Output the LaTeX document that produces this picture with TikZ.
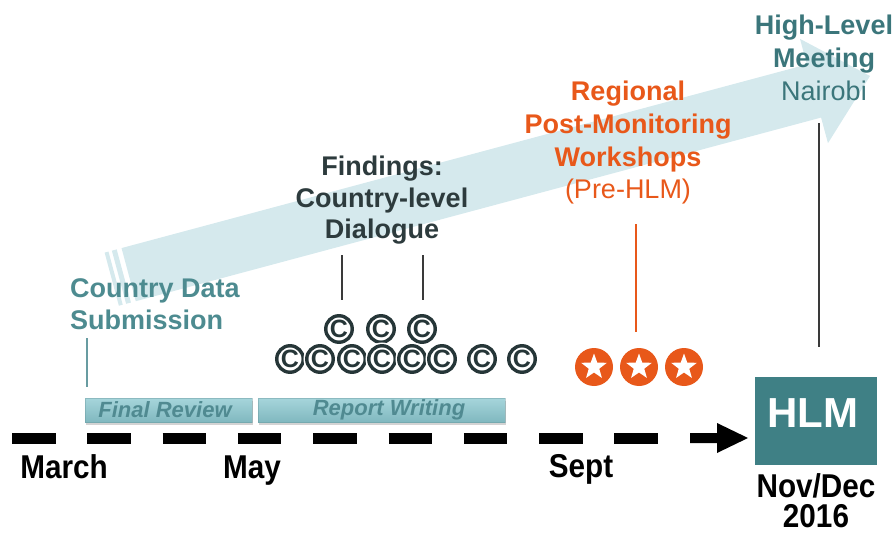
\documentclass[tikz,border=0pt]{standalone}
\usepackage{fontspec}
\setmainfont{Liberation Sans}
\newfontfamily\tlfont[FakeStretch=0.9]{Liberation Sans}
\usetikzlibrary{shapes.geometric,shadows}
\definecolor{arrowblue}{HTML}{D5E9ED}
\definecolor{hlteal}{HTML}{3B767B}
\definecolor{cdteal}{HTML}{4D8B90}
\definecolor{finddark}{HTML}{2D3B3D}
\definecolor{orng}{HTML}{E8581A}
\definecolor{boxteal}{HTML}{3F8085}
\definecolor{bartop}{HTML}{A6D5DB}
\definecolor{barbot}{HTML}{80B8BF}
\definecolor{bartext}{HTML}{508A91}
\definecolor{cdark}{HTML}{263638}
\definecolor{linegray}{HTML}{3A3A3A}
\begin{document}
\begin{tikzpicture}[x=1pt,y=-1pt,
  lbl/.style={font=\bfseries\fontsize{27}{32}\selectfont, anchor=base, inner sep=0pt},
  lblreg/.style={font=\fontsize{27}{32}\selectfont, anchor=base, inner sep=0pt},
  tl/.style={font=\tlfont\bfseries\fontsize{33}{38}\selectfont, anchor=base, inner sep=0pt, text=black},
  barbox/.style={rectangle, minimum height=24pt, inner sep=0pt, top color=bartop, bottom color=barbot,
    draw=barbot!80!black, draw opacity=0.4, line width=0.6pt,
    drop shadow={shadow xshift=1pt, shadow yshift=-2.5pt, opacity=0.35}},
  bartxt/.style={inner sep=0pt, font=\bfseries\itshape\fontsize{22}{22}\selectfont, text=bartext},
  copy/.style={circle, minimum size=26.5pt, inner sep=0pt, draw=cdark, line width=3.4pt,
    preaction={draw=white, line width=6.5pt}, text=cdark,
    font=\bfseries\fontsize{25}{25}\selectfont},
  starcirc/.style={circle, minimum size=38pt, inner sep=0pt, fill=orng},
  starw/.style={star, star points=5, star point ratio=2.45, minimum size=27pt, inner sep=0pt, fill=white},
  vline/.style={draw=linegray, line width=1.3pt}
]
\useasboundingbox (0,0) rectangle (895,535);

% big background arrow
\begin{scope}[shift={(870,76)}, rotate=15]
  \fill[arrowblue] (0,0) -- (-58,-54) -- (-58,-27.5) -- (-767.5,-27.5) -- (-767.5,27.5) -- (-58,27.5) -- (-58,54) -- cycle;
  \fill[arrowblue] (-785,-27.5) rectangle (-781,27.5);
  \fill[arrowblue] (-777.5,-27.5) rectangle (-772.5,27.5);
\end{scope}

% top labels
\node[lbl, text=hlteal] (hl1) at (824,35) {High-Level};
\node[lbl, text=hlteal] (hl2) at (824,67) {Meeting};
\node[lblreg, text=hlteal] (hl3) at (824,100) {Nairobi};

\node[lbl, text=orng] (rg1) at (628,100) {Regional};
\node[lbl, text=orng] (rg2) at (628,133) {Post-Monitoring};
\node[lbl, text=orng] (rg3) at (628,166) {Workshops};
\node[lblreg, text=orng] (rg4) at (628,198) {(Pre-HLM)};

\node[lbl, text=finddark] (fd1) at (382,175) {Findings:};
\node[lbl, text=finddark] (fd2) at (382,207) {Country-level};
\node[lbl, text=finddark] (fd3) at (382,238) {Dialogue};

\node[lbl, text=cdteal, anchor=base west] (cd1) at (70,297) {Country Data};
\node[lbl, text=cdteal, anchor=base west] (cd2) at (70,329) {Submission};

% vertical lines
\coordinate (hlA) at (819,123); \coordinate (hlB) at (819,347);
\draw[vline] (hlA) -- (hlB);
\coordinate (rgA) at (636,224); \coordinate (rgB) at (636,332);
\draw[draw=orng, line width=1.3pt] (rgA) -- (rgB);
\coordinate (fdA) at (342,255); \coordinate (fdB) at (342,300);
\coordinate (fdC) at (423,255); \coordinate (fdD) at (423,300);
\draw[vline] (fdA) -- (fdB);
\draw[vline] (fdC) -- (fdD);
\coordinate (cdA) at (87,338); \coordinate (cdB) at (87,387);
\draw[draw=cdteal!85!white, line width=1.3pt] (cdA) -- (cdB);

% copyright symbols
\node[copy] (c1) at (339,329) {C};
\node[copy] (c2) at (381,329) {C};
\node[copy] (c3) at (422,329) {C};
\node[copy] (c4) at (290,359) {C};
\node[copy] (c5) at (320,359) {C};
\node[copy] (c6) at (352,359) {C};
\node[copy] (c7) at (382,359) {C};
\node[copy] (c8) at (412,359) {C};
\node[copy] (c9) at (442,359) {C};
\node[copy] (c10) at (482,359) {C};
\node[copy] (c11) at (522,359) {C};

% stars
\node[starcirc] (s1) at (594,367) {};
\node[starcirc] (s2) at (639,367) {};
\node[starcirc] (s3) at (684,367) {};
\node[starw] (w1) at (s1.center) {};
\node[starw] (w2) at (s2.center) {};
\node[starw] (w3) at (s3.center) {};

% bars
\node[barbox, minimum width=167pt] (fr) at (168.5,410) {};
\node[barbox, minimum width=247pt] (rw) at (381.5,410) {};
\node[bartxt] (frt) at (165,410) {Final Review};
\node[bartxt] (rwt) at (389,410) {Report Writing};

% timeline
\coordinate (tlA) at (12,438); \coordinate (tlB) at (658,438);
\draw[line width=11pt, dash pattern=on 43.5pt off 31.8pt] (tlA) -- (tlB);
\fill[black] (690,433) -- (717,433) -- (717,423) -- (748,438) -- (717,453) -- (717,443) -- (690,443) -- cycle;

% HLM box
\node[rectangle, fill=boxteal, minimum width=122pt, minimum height=88pt, inner sep=0pt] (hlm) at (816,421) {};
\node[font=\bfseries\fontsize{42}{42}\selectfont, text=white, anchor=base, inner sep=0pt] (hlmt) at (813,427) {HLM};

% timeline labels
\node[tl] (mar) at (64,478) {March};
\node[tl] (may) at (252,478) {May};
\node[tl] (sep) at (581,477) {Sept};
\node[tl] (nov) at (816,497) {Nov/Dec};
\node[tl] (yr) at (816,527) {2016};
\end{tikzpicture}
\end{document}
